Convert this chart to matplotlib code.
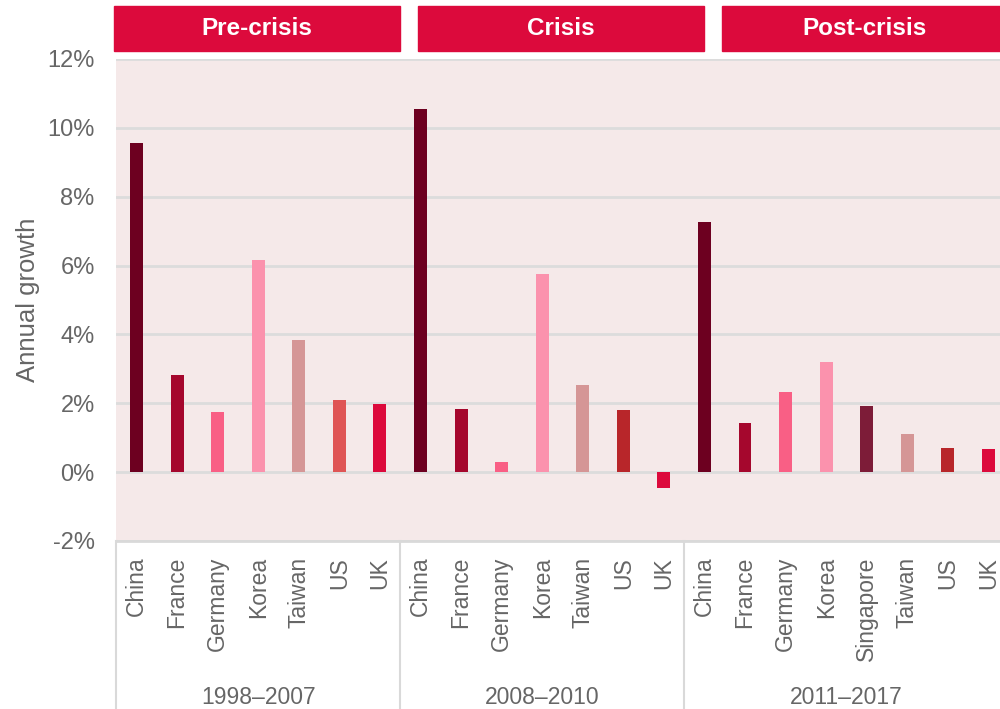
import matplotlib.pyplot as plt
from matplotlib.patches import Rectangle
import matplotlib.transforms as mtransforms

plt.rcParams['font.family'] = ['Liberation Sans', 'DejaVu Sans']

# data
periods = ["1998\u20132007", "2008\u20132010", "2011\u20132017"]
phases = ["Pre-crisis", "Crisis", "Post-crisis"]
pre_countries = ["China", "France", "Germany", "Korea", "Taiwan", "US", "UK"]
pre_growth = [9.55, 2.82, 1.74, 6.15, 3.85, 2.10, 1.99]
crisis_countries = ["China", "France", "Germany", "Korea", "Taiwan", "US", "UK"]
crisis_growth = [10.55, 1.82, 0.30, 5.75, 2.54, 1.80, -0.47]
post_countries = ["China", "France", "Germany", "Korea", "Singapore", "Taiwan", "US", "UK"]
post_growth = [7.27, 1.42, 2.33, 3.20, 1.92, 1.10, 0.70, 0.68]

country_colors = {"China": "#6d0020", "France": "#a5072d", "Germany": "#f95f85",
                  "Korea": "#fb92ad", "Taiwan": "#d59696", "UK": "#dc0a3c",
                  "Singapore": "#7d1c38"}
us_colors = ["#df5555", "#b8262a", "#b8262a"]

groups = [(pre_countries, pre_growth), (crisis_countries, crisis_growth),
          (post_countries, post_growth)]

fig = plt.figure(figsize=(10, 7.09), dpi=100)
ax = fig.add_axes([0.1162, 0.2370, 0.8925, 0.6798])
ax.set_facecolor("#f5e9e9")
trans = mtransforms.blended_transform_factory(ax.transData, ax.transAxes)

grey = "#666666"
x = 0
bounds = [-0.5]
for gi, (names, vals) in enumerate(groups):
    for name, v in zip(names, vals):
        col = us_colors[gi] if name == "US" else country_colors[name]
        ax.bar(x, v, width=0.32, color=col, zorder=3)
        ax.text(x, -0.033, name, transform=trans, rotation=90,
                ha="center", va="top", fontsize=16.5, color=grey)
        x += 1
    bounds.append(x - 0.5)

ax.set_xlim(-0.5, x - 0.5)
ax.set_ylim(-2, 12)
ax.set_yticks(range(-2, 13, 2))
ax.set_yticklabels([f"{t}%" for t in range(-2, 13, 2)])
ax.tick_params(axis="y", length=0, labelsize=17, labelcolor=grey, pad=15.5)
ax.set_xticks([])
ax.yaxis.grid(True, color="#dcdcdc", linewidth=2)
ax.set_axisbelow(True)
for s in ax.spines.values():
    s.set_visible(False)
ax.set_ylabel("Annual growth", fontsize=18.5, color=grey, labelpad=5)

ax.plot([bounds[0], bounds[-1]], [0, 0], transform=trans, color="#d9d9d9", lw=2, clip_on=False)
for b in bounds[:-1]:
    ax.plot([b, b], [0, -0.36], transform=trans, color="#d9d9d9", lw=1.5, clip_on=False)

# period labels under each group
for gi in range(3):
    mid = (bounds[gi] + bounds[gi + 1]) / 2
    ax.text(mid, -0.325, periods[gi], transform=trans, ha="center", va="center",
            fontsize=16.5, color=grey)

# red phase banners above the plot
for gi in range(3):
    left = -0.555 + gi * 7.49
    ax.add_patch(Rectangle((left, 1.017), 7.05, 0.093, transform=trans,
                           color="#dc0a3c", clip_on=False))
    ax.text(left + 3.525, 1.064, phases[gi], transform=trans,
            ha="center", va="center", fontsize=17.5, fontweight="bold", color="white")

fig.savefig("out.png", dpi=100)
